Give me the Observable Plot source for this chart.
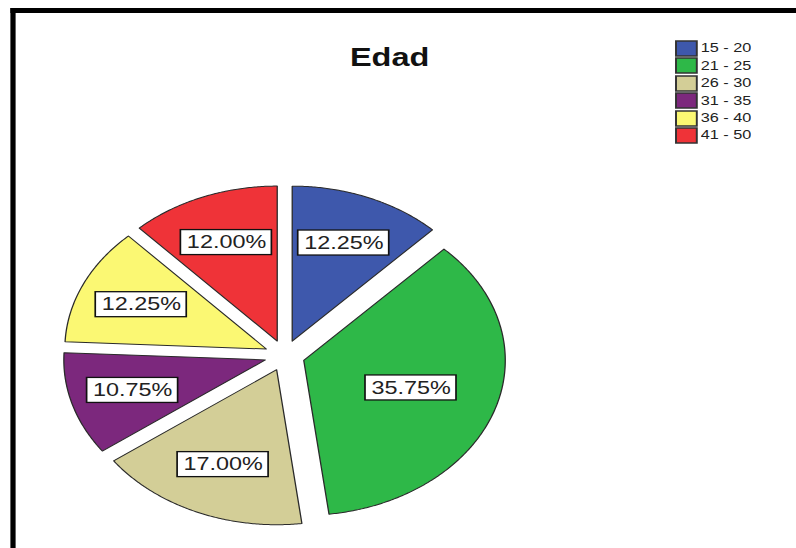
<!DOCTYPE html>
<html><head><meta charset="utf-8">
<script src="https://cdn.jsdelivr.net/npm/d3@7"></script>
<script src="https://cdn.jsdelivr.net/npm/@observablehq/plot@0.6"></script>
<style>
html,body{margin:0;padding:0;background:#fff;}
#page{position:relative;width:796px;height:548px;overflow:hidden;background:#fff;}
#stage{position:absolute;left:0;top:0;width:612.3px;height:548px;transform:scaleX(1.3);transform-origin:0 0;}
#chart{position:absolute;left:0;top:0;}
#frame{position:absolute;left:7.7px;top:8px;width:700px;height:600px;border-left:4.6px solid #000;border-top:5px solid #000;pointer-events:none;}
#legend{position:absolute;left:520px;top:40.3px;}
.lg-swatch svg{margin-right:3px;}
.lg-swatch svg rect{stroke:#333;stroke-width:1.5px;}
</style></head><body>
<div id="page"><div id="stage"><div id="chart"></div><div id="legend"></div><div id="frame"></div></div></div>
<script>
const categories = ["15 - 20", "21 - 25", "26 - 30", "31 - 35", "36 - 40", "41 - 50"];
const percents = [12.25, 35.75, 17.00, 10.75, 12.25, 12.00];
const colors = ["#3e58ac", "#2eb848", "#d3ce97", "#7c287d", "#fbf873", "#ef3338"];
const title = "Edad";

const SX = 1.3;            // the reference is stretched horizontally
const W = 796 / SX, H = 548;
const cx = 284 / SX, cy = 355, R = 155;
const explode = 0.1;
const font = "Liberation Sans, Arial, sans-serif";

const total = d3.sum(percents);
let acc = 0;
const slices = categories.map((c, i) => {
  const a0 = acc / total * 2 * Math.PI; acc += percents[i];
  const a1 = acc / total * 2 * Math.PI;
  const am = (a0 + a1) / 2;
  return {c, p: percents[i], a0, a1, am, ox: explode * Math.sin(am), oy: explode * Math.cos(am)};
});
const outline = slices.flatMap(s => {
  const pts = [{c: s.c, x: s.ox, y: s.oy}];
  const n = Math.max(2, Math.ceil((s.a1 - s.a0) / (Math.PI / 360)));
  for (let k = 0; k <= n; k++) {
    const a = s.a0 + (s.a1 - s.a0) * k / n;
    pts.push({c: s.c, x: s.ox + Math.sin(a), y: s.oy + Math.cos(a)});
  }
  return pts;
});
const labels = slices.map(s => {
  const al = s.a1 - s.a0;
  const rc = 1.05 * 4 * Math.sin(al / 2) / (3 * al);
  return {c: s.c, text: d3.format(".2f")(s.p) + "%", x: s.ox + rc * Math.sin(s.am), y: s.oy + rc * Math.cos(s.am)};
});
const bw = 35 / R, bh = 12.5 / R;

const chart = Plot.plot({
  width: W, height: H, margin: 0,
  style: {background: "transparent", overflow: "visible"},
  x: {domain: [-1, 1], range: [cx - R, cx + R], axis: null},
  y: {domain: [-1, 1], range: [cy + R, cy - R], axis: null},
  color: {domain: categories, range: colors},
  marks: [
    Plot.line(outline, {x: "x", y: "y", z: "c", fill: "c", stroke: "#2a2a2a", strokeWidth: 1, curve: "linear-closed"}),
    Plot.rect(labels, {x1: d => d.x - bw, x2: d => d.x + bw, y1: d => d.y - bh, y2: d => d.y + bh, fill: "white", stroke: "#111", strokeWidth: 1.3}),
    Plot.text(labels, {x: "x", y: "y", text: "text", fontSize: 18, fontFamily: font, fill: "#222"}),
    Plot.text([title], {text: d => d, frameAnchor: "top", dx: (389 / SX) - W / 2, dy: 66, lineAnchor: "bottom", fontSize: 25, fontWeight: "bold", fontFamily: font, fill: "#111"})
  ]
});
document.getElementById("chart").append(chart);
const leg = chart.legend("color", {legend: "swatches", columns: 1, swatchWidth: 16, swatchHeight: 15, className: "lg",
  style: {fontFamily: font, fontSize: "12.5px", color: "#222", lineHeight: "16.4px", margin: 0}});
document.getElementById("legend").append(leg);
</script></body></html>
